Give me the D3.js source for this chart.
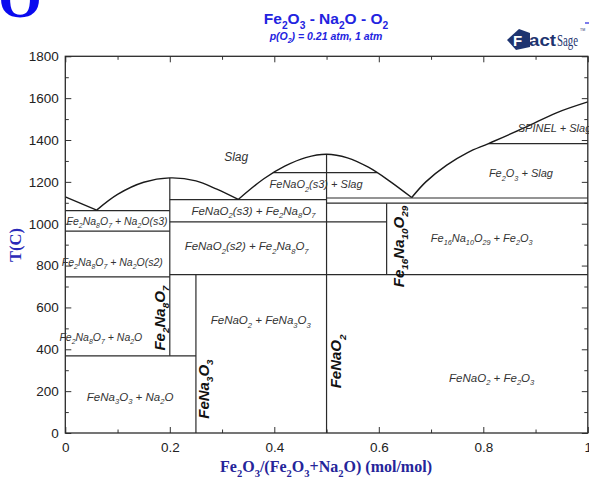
<!DOCTYPE html>
<html>
<head>
<meta charset="utf-8">
<script src="https://cdn.jsdelivr.net/npm/d3@7"></script>
<style>
  body { margin: 0; background: #fff; }
  svg { display: block; font-family: Arial, "Liberation Sans", sans-serif; }
</style>
</head>
<body>
<svg id="chart" width="589" height="478"></svg>
<script>
// axis ticks
const xTicks = [0, 0.2, 0.4, 0.6, 0.8, 1];
const xMinor = [0.1, 0.3, 0.5, 0.7, 0.9];
const yTicks = [0, 200, 400, 600, 800, 1000, 1200, 1400, 1600, 1800];
const yMinor = [100, 300, 500, 700, 900, 1100, 1300, 1500, 1700];

// liquidus branches [Fe2O3 fraction, T(C)]
const liqNa2O = [[0, 1128], [0.06, 1065]];
const liqFe2Na8O7 = [[0.06, 1065], [0.1, 1140], [0.15, 1198], [0.2, 1219], [0.25, 1205], [0.29, 1165], [0.331, 1116]];
const liqFeNaO2 = [[0.331, 1116], [0.38, 1215], [0.42, 1275], [0.46, 1316], [0.5, 1332], [0.54, 1315], [0.58, 1270], [0.62, 1205], [0.663, 1125]];
const liqFe2O3 = [[0.663, 1125], [0.69, 1200], [0.73, 1280], [0.77, 1340], [0.81, 1383], [0.88, 1460], [0.94, 1530], [1, 1582]];

// horizontal invariant lines [x from, x to, T]
const isotherms = [
  [0, 0.2, 1063], [0, 0.2, 965], [0, 0.2, 746], [0, 0.25, 369],
  [0.2, 0.5, 1115], [0.2, 0.615, 1009], [0.2, 1, 757],
  [0.5, 1, 1123], [0.5, 1, 1098], [0.81, 1, 1383], [0.398, 0.597, 1244]
];
// compound lines [x, T from, T to]
const compounds = [[0.2, 369, 1219], [0.25, 0, 757], [0.5, 0, 1332], [0.615, 757, 1098]];

// phase field labels [text, x, T]
const fieldLabels = [
  ['Slag', 0.327, 1320, 12],
  ['FeNaO_2(s3) + Slag', 0.48, 1188, 11],
  ['SPINEL + Slag', 0.866, 1458, 11, 'start'],
  ['Fe_2O_3 + Slag', 0.872, 1240, 11],
  ['Fe_2Na_8O_7 + Na_2O(s3)', 0.099, 1014, 10.5],
  ['FeNaO_2(s3) + Fe_2Na_8O_7', 0.36, 1062, 11.5],
  ['FeNaO_2(s2) + Fe_2Na_8O_7', 0.347, 893, 11.5],
  ['Fe_2Na_8O_7 + Na_2O(s2)', 0.09, 815, 10.5],
  ['Fe_1_6Na_1_0O_2_9 + Fe_2O_3', 0.797, 931, 11],
  ['Fe_2Na_8O_7 + Na_2O', 0.068, 457, 10.5],
  ['FeNaO_2 + FeNa_3O_3', 0.374, 540, 11.5],
  ['FeNa_3O_3 + Na_2O', 0.124, 173, 11.5],
  ['FeNaO_2 + Fe_2O_3', 0.816, 264, 11.5]
];
const compoundLabels = [
  ['Fe_2Na_8O_7', 0.18, 549],
  ['FeNa_3O_3', 0.264, 210],
  ['FeNaO_2', 0.518, 342],
  ['Fe_1_6Na_1_0O_2_9', 0.637, 891]
];

const svg = d3.select('#chart');
const x = d3.scaleLinear().domain([0, 1]).range([65.3, 587.8]);
const y = d3.scaleLinear().domain([0, 1800]).range([433, 56.3]);

// text with subscripts, "_2" marks a subscript digit (runs merged)
function rich(sel, str, fs) {
  const parts = str.split(/((?:_\d)+)/).filter(s => s.length);
  let down = false;
  parts.forEach(p => {
    if (p[0] === '_') {
      sel.append('tspan').attr('font-size', fs * 0.66).attr('dy', down ? 0 : fs * 0.3).text(p.replace(/_/g, ''));
      down = true;
    } else {
      sel.append('tspan').attr('dy', down ? -fs * 0.3 : 0).text(p);
      down = false;
    }
  });
  return sel;
}

// stray glyph at top left
svg.append('text').attr('x', 20).attr('y', 17)
   .attr('text-anchor', 'middle').attr('font-family', 'Liberation Serif, serif')
   .attr('font-weight', 'bold').attr('font-size', 56).attr('fill', '#0a0aef').text('O');

// titles
rich(svg.append('text').attr('x', 326).attr('y', 24).attr('text-anchor', 'middle')
   .attr('font-weight', 'bold').attr('font-size', 15.5).attr('fill', '#2323e0'), 'Fe_2O_3 - Na_2O - O_2', 15.5);
rich(svg.append('text').attr('x', 326).attr('y', 39.5).attr('text-anchor', 'middle')
   .attr('font-weight', 'bold').attr('font-style', 'italic').attr('font-size', 10.5).attr('fill', '#2323e0'),
   'p(O_2) = 0.21 atm, 1 atm', 10.5);

// FactSage logo
const logo = svg.append('g').attr('fill', '#1e3470');
logo.append('path').attr('d', 'M507,40 L519,29 L530,33 L530,47 L516,50 Z');
logo.append('text').attr('x', 513).attr('y', 46).attr('fill', '#fff').attr('font-weight', 'bold')
    .attr('font-size', 15).text('F');
logo.append('text').attr('x', 529).attr('y', 46).attr('font-weight', 'bold').attr('font-size', 17)
    .attr('textLength', 27).attr('lengthAdjust', 'spacingAndGlyphs').text('act');
logo.append('text').attr('x', 557).attr('y', 46).attr('font-family', 'Liberation Serif, serif').attr('font-size', 16)
    .attr('textLength', 21).attr('lengthAdjust', 'spacingAndGlyphs').text('Sage');
logo.append('text').attr('x', 580).attr('y', 31).attr('font-size', 3.5).text('TM');
svg.append('line').attr('x1', 585).attr('x2', 589).attr('y1', 23).attr('y2', 23)
   .attr('stroke', '#2323e0').attr('stroke-width', 1.2);

// axes
function styleAxis(g) {
  g.select('.domain').remove();
  g.selectAll('.tick line').attr('stroke', '#333').attr('stroke-width', 1);
  g.selectAll('.tick text').attr('font-size', 13.5).attr('font-family', 'Arial, sans-serif').attr('fill', '#222');
}
svg.append('g').attr('transform', `translate(0,${y(0)})`)
   .call(d3.axisBottom(x).tickValues(xTicks).tickSize(-6).tickPadding(9).tickFormat(d3.format('~g'))).call(styleAxis);
svg.append('g').attr('transform', `translate(0,${y(0)})`)
   .call(d3.axisBottom(x).tickValues(xMinor).tickSize(-3.5).tickFormat('')).call(styleAxis);
svg.append('g').attr('transform', `translate(0,${y(1800)})`)
   .call(d3.axisTop(x).tickValues(xTicks).tickSize(-6).tickFormat('')).call(styleAxis);
svg.append('g').attr('transform', `translate(0,${y(1800)})`)
   .call(d3.axisTop(x).tickValues(xMinor).tickSize(-3.5).tickFormat('')).call(styleAxis);
svg.append('g').attr('transform', `translate(${x(0)},0)`)
   .call(d3.axisLeft(y).tickValues(yTicks).tickSize(-6).tickPadding(6.5).tickFormat(d3.format('d'))).call(styleAxis);
svg.append('g').attr('transform', `translate(${x(0)},0)`)
   .call(d3.axisLeft(y).tickValues(yMinor).tickSize(-3.5).tickFormat('')).call(styleAxis);
svg.append('g').attr('transform', `translate(${x(1)},0)`)
   .call(d3.axisRight(y).tickValues(yTicks).tickSize(-6).tickFormat('')).call(styleAxis);
svg.append('g').attr('transform', `translate(${x(1)},0)`)
   .call(d3.axisRight(y).tickValues(yMinor).tickSize(-3.5).tickFormat('')).call(styleAxis);

// phase boundaries
const line = d3.line().x(d => x(d[0])).y(d => y(d[1]));
const curve = d3.line().x(d => x(d[0])).y(d => y(d[1])).curve(d3.curveCatmullRom);
const lines = svg.append('g').attr('fill', 'none').attr('stroke', '#2a2a2a').attr('stroke-width', 1.2);
isotherms.forEach(d => lines.append('path').attr('d', line([[d[0], d[2]], [d[1], d[2]]])));
compounds.forEach(d => lines.append('path').attr('d', line([[d[0], d[1]], [d[0], d[2]]])));
[liqNa2O, liqFe2Na8O7, liqFeNaO2, liqFe2O3].forEach(d =>
  lines.append('path').attr('d', curve(d)).attr('stroke', '#1a1a1a').attr('stroke-width', 1.4));

// frame
svg.append('rect').attr('x', x(0)).attr('y', y(1800))
   .attr('width', x(1) - x(0)).attr('height', y(0) - y(1800))
   .attr('fill', 'none').attr('stroke', '#2b2b2b').attr('stroke-width', 1.3);

// labels
fieldLabels.forEach(([t, cx, cT, fs, anchor]) => {
  rich(svg.append('text').attr('x', x(cx)).attr('y', y(cT) + fs * 0.36)
     .attr('text-anchor', anchor || 'middle').attr('font-style', 'italic')
     .attr('font-size', fs).attr('fill', '#333'), t, fs);
});
compoundLabels.forEach(([t, cx, cT]) => {
  rich(svg.append('text').attr('transform', `translate(${x(cx)},${y(cT)}) rotate(-90)`)
     .attr('y', 15 * 0.36).attr('text-anchor', 'middle')
     .attr('font-weight', 'bold').attr('font-style', 'italic')
     .attr('font-size', 15).attr('fill', '#111'), t, 15);
});

// axis titles
rich(svg.append('text').attr('x', 326).attr('y', 472).attr('text-anchor', 'middle')
   .attr('font-family', 'Liberation Serif, serif').attr('font-weight', 'bold')
   .attr('font-size', 16).attr('fill', '#25259a'), 'Fe_2O_3/(Fe_2O_3+Na_2O) (mol/mol)', 16);
svg.append('text').attr('transform', 'translate(21,245) rotate(-90)').attr('text-anchor', 'middle')
   .attr('font-family', 'Liberation Serif, serif').attr('font-weight', 'bold')
   .attr('font-size', 16.5).attr('fill', '#2a2ab8').text('T(C)');
</script>
</body>
</html>
